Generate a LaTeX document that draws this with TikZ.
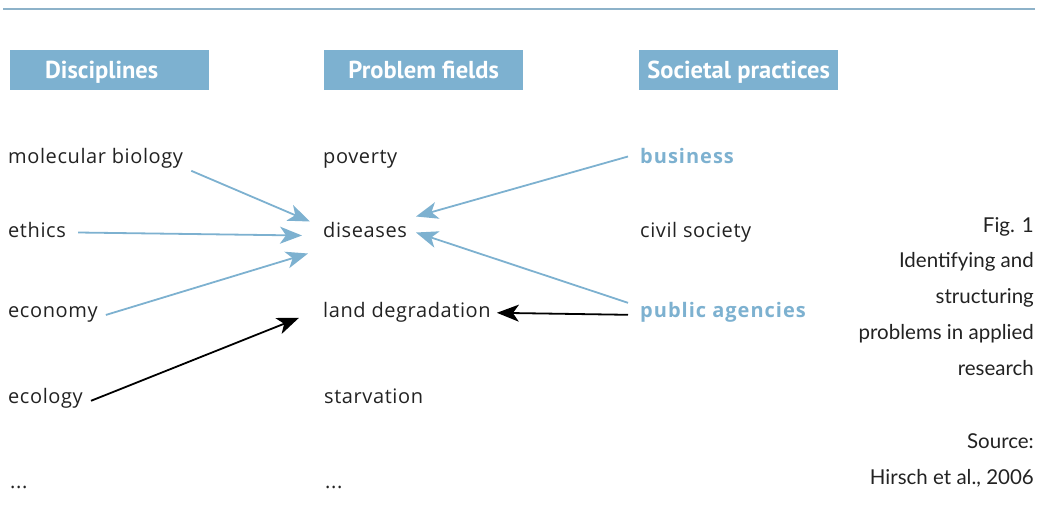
\documentclass[tikz,border=0pt]{standalone}
\usepackage{fontspec}
\setmainfont{Open Sans}[LetterSpace=3]
\newfontfamily\boldfont{Open Sans Bold}[LetterSpace=5]
\newfontfamily\headfont{PT Sans}
\newfontfamily\capfont{Lato}
\usetikzlibrary{arrows.meta,calc}
\definecolor{hblue}{HTML}{7DB1D0}
\definecolor{lineblue}{HTML}{8DB2C9}
\definecolor{txt}{HTML}{222222}
\tikzset{
  head/.style={fill=hblue,minimum width=199pt,minimum height=40pt,inner sep=0pt,
    text height=18pt,text depth=2pt,
    font=\headfont\bfseries\fontsize{24.5}{24.5}\selectfont,text=white},
  item/.style={anchor=base west,inner sep=0pt,font=\fontsize{20}{20}\selectfont,text=txt},
  bitem/.style={item,font=\boldfont\fontsize{20}{20}\selectfont,text=hblue},
  captext/.style={anchor=base east,inner sep=0pt,font=\capfont\fontsize{20.5}{20.5}\selectfont,text=txt},
  barrow/.style={draw=hblue,line width=1.8pt,-{Stealth[length=22pt,width=17pt,inset=6pt]}},
  karrow/.style={draw=black,line width=1.8pt,-{Stealth[length=22pt,width=17pt,inset=6pt]}},
}
\begin{document}
\begin{tikzpicture}[x=1pt,y=-1pt]
\useasboundingbox (0,0) rectangle (1045,514);
\draw[lineblue,line width=1.5pt] (3,9) -- (1035,9);
% headers
\node[head,anchor=north west] (hd) at (10,50) {\hspace*{-16pt}Disciplines};
\node[head,anchor=north west] (hp) at (324,50) {Problem fields};
\node[head,anchor=north west] (hs) at (639,50) {Societal practices};
% disciplines
\node[item] (mb) at (8,163) {molecular biology};
\node[item] (eth) at (8,237) {ethics};
\node[item] (eco) at (8,317) {economy};
\node[item] (ecl) at (8,403) {ecology};
\node[item] (d1) at (10,488) {...};
% problem fields
\node[item] (pov) at (323,163) {poverty};
\node[item] (dis) at (323,237) {diseases};
\node[item] (land) at (323,317) {land degradation};
\node[item] (star) at (324,403) {starvation};
\node[item] (d2) at (325,488) {...};
% societal practices
\node[bitem] (bus) at (640,163) {business};
\node[item] (civ) at (640,237) {civil society};
\node[bitem] (pub) at (640,317) {public agencies};
% caption
\node[captext] (c1) at (1034,232) {Fig. 1};
\node[captext] (c2) at (1034,267) {Identifying and};
\node[captext] (c3) at (1034,303) {structuring};
\node[captext] (c4) at (1034,339) {problems in applied};
\node[captext] (c5) at (1034,375) {research};
\node[captext] (c6) at (1034,448) {Source:};
\node[captext] (c7) at (1034,484) {Hirsch et al., 2006};
% connector endpoints
\coordinate (mbo) at ([xshift=8pt,yshift=-13pt]mb.east);
\coordinate (etho) at ([xshift=12pt,yshift=-3pt]eth.east);
\coordinate (ecoo) at ([xshift=8pt,yshift=-1pt]eco.east);
\coordinate (eclo) at ([xshift=8pt,yshift=-3pt]ecl.east);
\coordinate (disa) at ([xshift=-13pt,yshift=8pt]dis.west);
\coordinate (disb) at ([xshift=-21pt,yshift=-6pt]dis.west);
\coordinate (disc) at ([xshift=-15pt,yshift=-24pt]dis.west);
\coordinate (disd) at ([xshift=93pt,yshift=13pt]dis.west);
\coordinate (dise) at ([xshift=93pt,yshift=-3pt]dis.west);
\coordinate (landi) at ([xshift=-24pt,yshift=-6pt]land.west);
\coordinate (landr) at ([xshift=6pt,yshift=-1pt]land.east);
\coordinate (buso) at ([xshift=-12pt,yshift=-1pt]bus.west);
\coordinate (pubo) at ([xshift=-12pt,yshift=9pt]pub.west);
\coordinate (pubp) at ([xshift=-12pt,yshift=-3pt]pub.west);
\draw[barrow] (mbo) -- (disa);
\draw[barrow] (etho) -- (disb);
\draw[barrow] (ecoo) -- (disc);
\draw[karrow] (eclo) -- (landi);
\draw[barrow] (buso) -- (disd);
\draw[barrow] (pubo) -- (dise);
\draw[karrow] (pubp) -- (landr);
\end{tikzpicture}
\end{document}
